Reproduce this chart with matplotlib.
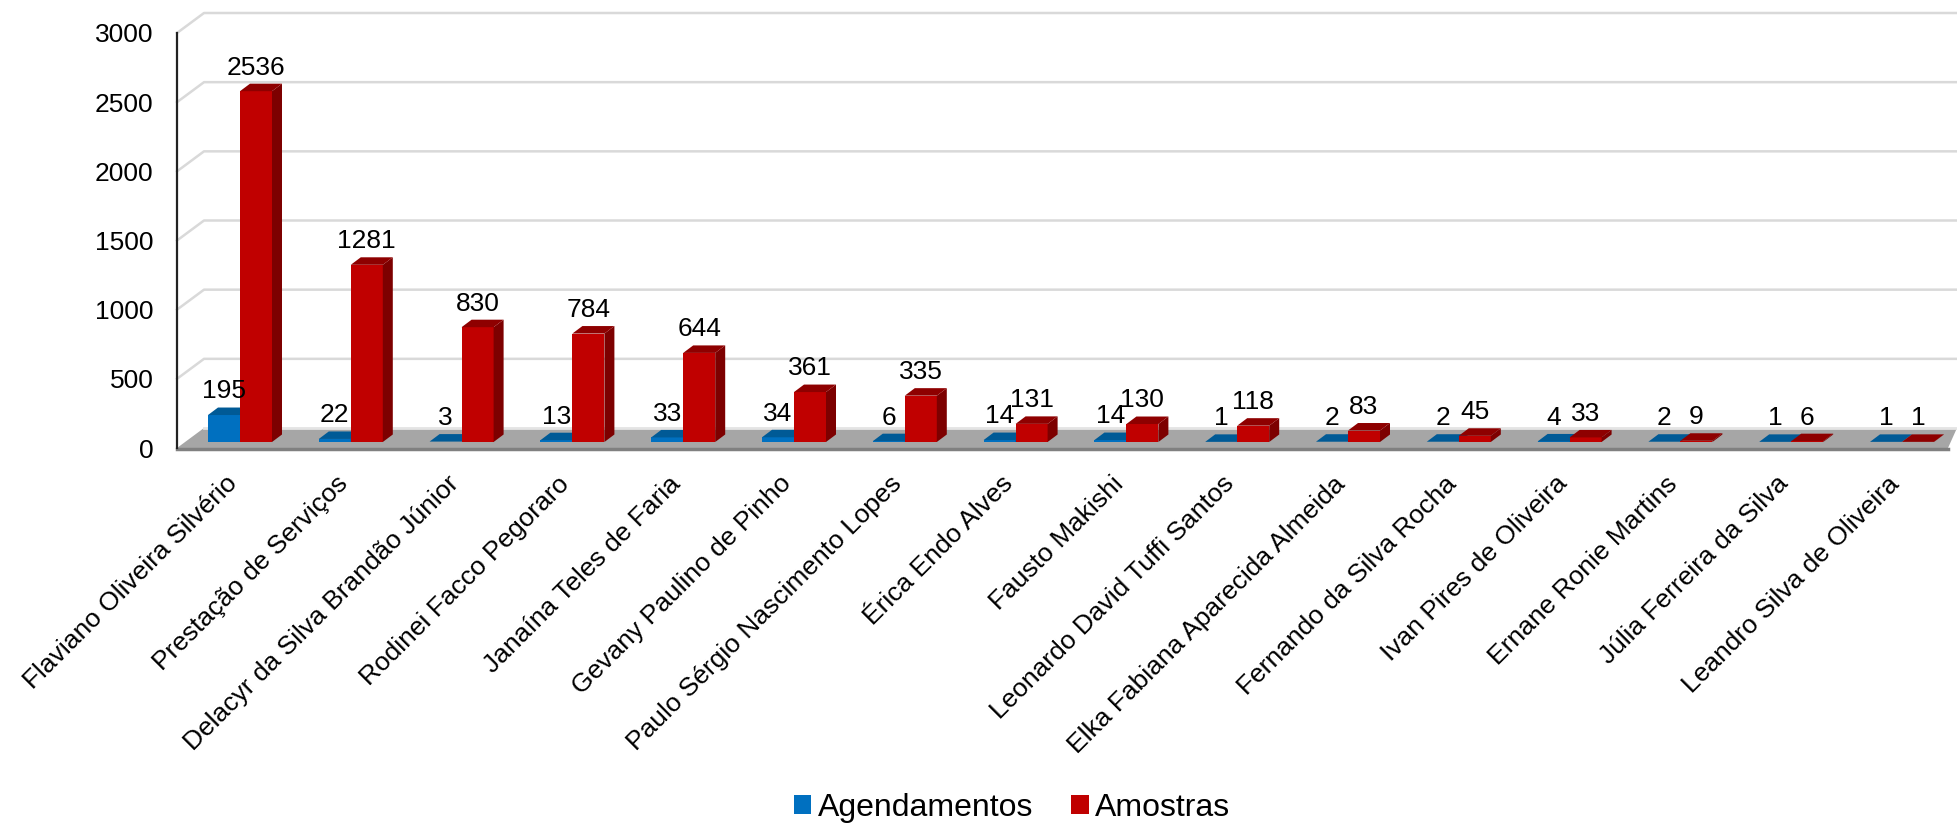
import numpy as np
import matplotlib
matplotlib.use('Agg')
import matplotlib.pyplot as plt
from matplotlib.patches import Polygon
from matplotlib.transforms import ScaledTranslation

plt.rcParams['font.family'] = ['Liberation Sans', 'DejaVu Sans']

# %%
#the data

names = ['Flaviano Oliveira Silvério', 'Prestação de Serviços', 'Delacyr da Silva Brandão Júnior',
         'Rodinei Facco Pegoraro', 'Janaína Teles de Faria', 'Gevany Paulino de Pinho',
         'Paulo Sérgio Nascimento Lopes', 'Érica Endo Alves', 'Fausto Makishi',
         'Leonardo David Tuffi Santos', 'Elka Fabiana Aparecida Almeida', 'Fernando da Silva Rocha',
         'Ivan Pires de Oliveira', 'Ernane Ronie Martins', 'Júlia Ferreira da Silva',
         'Leandro Silva de Oliveira']
agendamentos = [195, 22, 3, 13, 33, 34, 6, 14, 14, 1, 2, 2, 4, 2, 1, 1]
amostras = [2536, 1281, 830, 784, 644, 361, 335, 131, 130, 118, 83, 45, 33, 9, 6, 1]
yticks = [0, 500, 1000, 1500, 2000, 2500, 3000]

# %%
#the fake 3d geometry, in data units

W, H = 1957, 825
left, right, y0, y3000 = 177, 1957, 448, 33
PX = 1/110.8                    #one pixel in x data
PY = 3000/(y0 - y3000)          #one pixel in y data

width = 32*PX
base = 6*PY                     #bars stand a little behind the front of the floor
bar_dx, bar_dy = 10*PX, 7.5*PY  #depth of a bar
wall_dx, wall_dy = 27*PX, 20*PY #depth of the floor

fig = plt.figure(figsize=(W/100, H/100), dpi=100)
ax = fig.add_axes([left/W, 1 - y0/H, (right - left)/W, (y0 - y3000)/H])
ax.set_xlim(-63*PX, -63*PX + (right - left)*PX)
ax.set_ylim(0, 3000)

xmin, xmax = ax.get_xlim()

#gridlines on the wall
for t in yticks[1:]:
    ax.plot([xmin, xmin + wall_dx, xmax], [t, t + wall_dy, t + wall_dy],
            color='#D9D9D9', lw=1.8, clip_on=False, zorder=1)

#the floor
floor = [(xmin, 0), (xmin + wall_dx, wall_dy), (xmax, wall_dy), (xmax - 9*PX, 0)]
ax.add_patch(Polygon(floor, closed=True, fc='#A6A6A6', ec='none', clip_on=False, zorder=2))
ax.plot([xmin + wall_dx, xmax], [wall_dy, wall_dy], color='#E4E4E4', lw=2, clip_on=False, zorder=2)
ax.plot([xmin, xmax - 9*PX], [-PY, -PY], color='#808080', lw=2.5, clip_on=False, zorder=2)


def bars_3d(xs, vals, front, side, top, z):
    bars = ax.bar(xs, vals, width, bottom=base, align='edge', color=front, zorder=z)
    for x, v in zip(xs, vals):
        h = base + v
        ax.add_patch(Polygon([(x + width, base), (x + width + bar_dx, base + bar_dy),
                              (x + width + bar_dx, h + bar_dy), (x + width, h)],
                             fc=side, ec='none', zorder=z))
        ax.add_patch(Polygon([(x, h), (x + bar_dx, h + bar_dy),
                              (x + width + bar_dx, h + bar_dy), (x + width, h)],
                             fc=top, ec='none', zorder=z))
    return bars


pos = np.arange(len(names))
b1 = bars_3d(pos - width, agendamentos, '#0070C0', '#00497D', '#005A96', 3)
b2 = bars_3d(pos, amostras, '#C00000', '#7D0000', '#8E0000', 4)

#value labels
for xs, vals in [(pos - width/2, agendamentos), (pos + width/2, amostras)]:
    for x, v in zip(xs, vals):
        ax.annotate(str(v), (x, base + v), xytext=(0, 12), textcoords='offset points',
                    ha='center', va='baseline', fontsize=19, color='black', zorder=6)

# %%
#axes and legend

for s in ['top', 'right', 'bottom']:
    ax.spines[s].set_visible(False)
ax.spines['left'].set_linewidth(1.6)
ax.spines['left'].set_color('#222222')
ax.patch.set_alpha(0)

ax.set_yticks(yticks)
ax.tick_params(axis='y', length=0, pad=17, labelsize=19)
ax.set_xticks(pos)
ax.set_xticklabels(names, rotation=45, ha='right', rotation_mode='anchor', fontsize=19)
ax.tick_params(axis='x', length=0, pad=17)

#labels sit a bit left of the category centre
shift = ScaledTranslation(-15/100, 0, fig.dpi_scale_trans)
for lab in ax.get_xticklabels():
    lab.set_transform(lab.get_transform() + shift)

fig.legend([b1, b2], ['Agendamentos', 'Amostras'], loc='center', bbox_to_anchor=(1012/W, 1 - 808/H),
           ncol=2, frameon=False, fontsize=23, handlelength=0.55, handleheight=0.55,
           handletextpad=0.2, columnspacing=1.2)

fig.savefig('out.png', dpi=100)
